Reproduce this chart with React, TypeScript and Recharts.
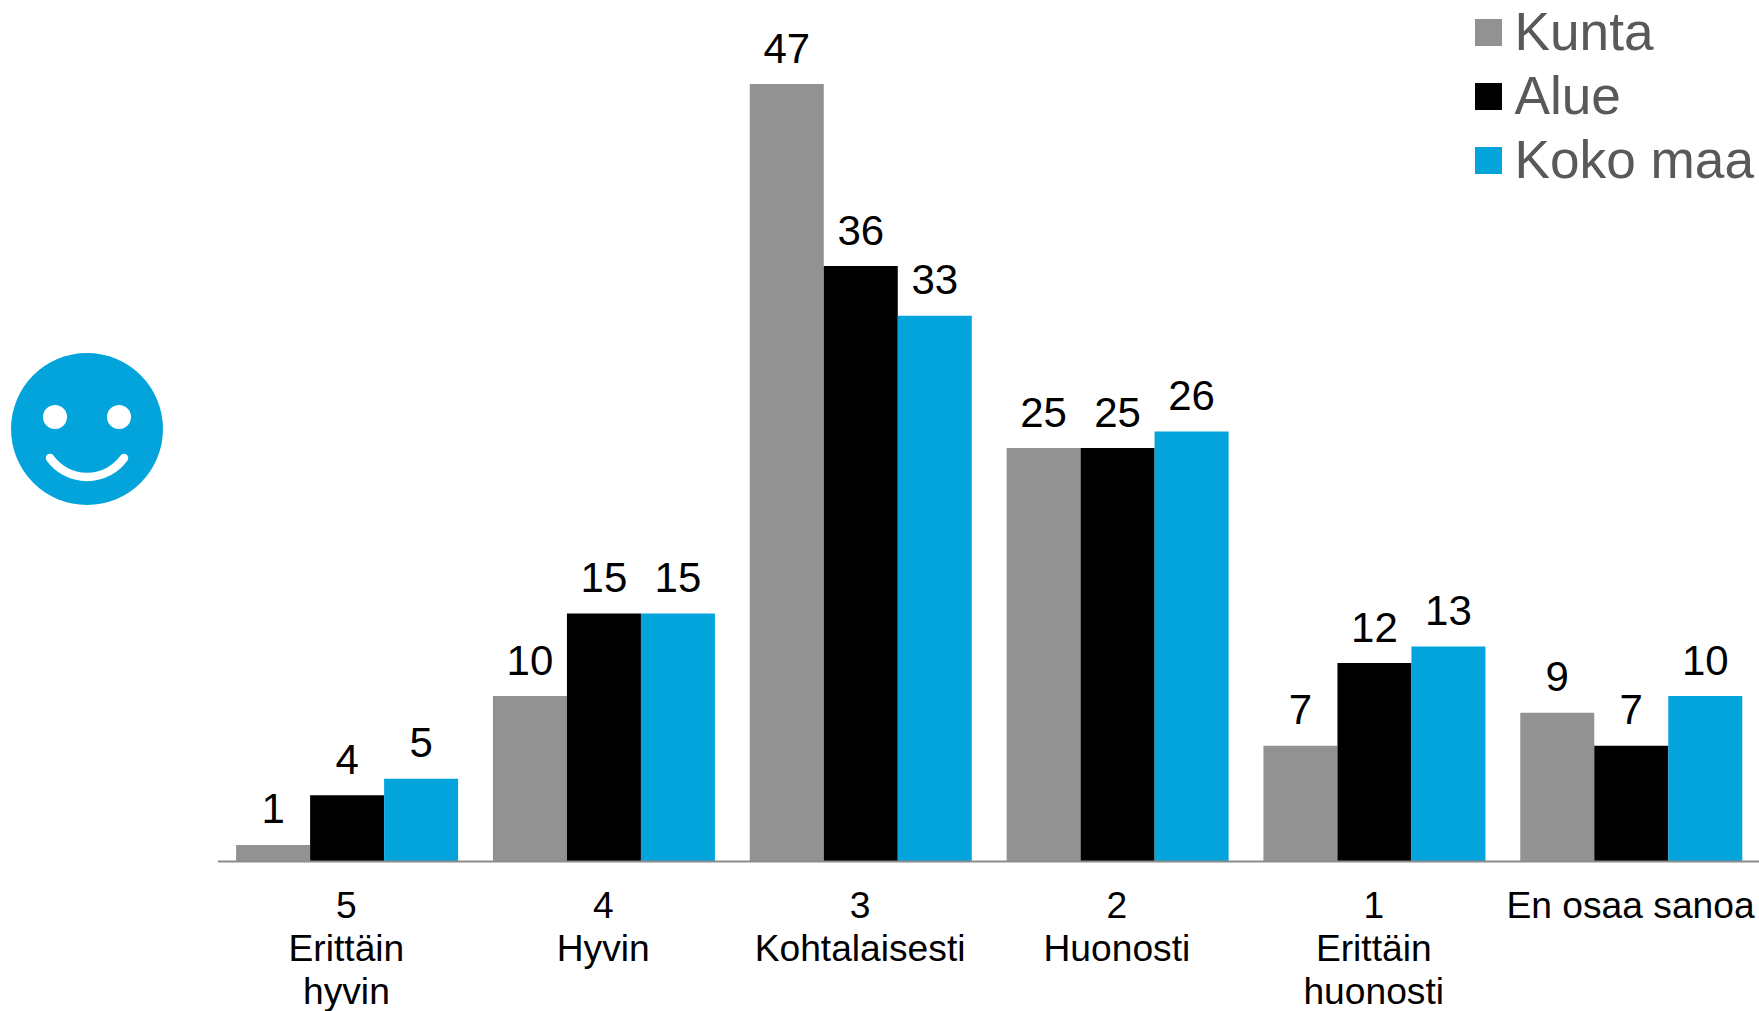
import React from 'react';
import { BarChart, Bar, XAxis, YAxis, Legend, LabelList } from 'recharts';

const categories = ['5\nErittäin\nhyvin', '4\nHyvin', '3\nKohtalaisesti', '2\nHuonosti', '1\nErittäin\nhuonosti', 'En osaa sanoa'];
const kunta = [1, 10, 47, 25, 7, 9];
const alue = [4, 15, 36, 25, 12, 7];
const kokoMaa = [5, 15, 33, 26, 13, 10];

const data = categories.map((name, i) => ({
    name,
    Kunta: kunta[i],
    Alue: alue[i],
    'Koko maa': kokoMaa[i],
}));

const FONT = '"Liberation Sans", Arial, sans-serif';

const CategoryTick = ({ x, y, payload }: any) => (
    <text x={x} textAnchor="middle" fontFamily={FONT} fontSize={37.2} fill="#000">
        {String(payload.value).split('\n').map((line: string, i: number) => (
            <tspan key={i} x={x} y={y + 48 + i * 43}>{line}</tspan>
        ))}
    </text>
);

const LegendList = ({ payload }: any) => (
    <div style={{ fontFamily: FONT, fontSize: 53.2, lineHeight: '64px', color: '#595959' }}>
        {(payload || []).map((entry: any) => (
            <div key={entry.value} style={{ display: 'flex', alignItems: 'center', whiteSpace: 'nowrap' }}>
                <span style={{ width: 27, height: 27, background: entry.color, marginRight: 12.5, display: 'inline-block' }} />
                {entry.value}
            </div>
        ))}
    </div>
);

const Smiley = () => (
    <g>
        <circle cx={87} cy={429} r={76} fill="#03a4dc" />
        <circle cx={55} cy={417} r={12} fill="#fff" />
        <circle cx={119} cy={417} r={12} fill="#fff" />
        <path d="M50 458 A45.5 45.5 0 0 0 124 458" fill="none" stroke="#fff" strokeWidth={8.5} strokeLinecap="round" />
    </g>
);

const labelStyle = { fontFamily: FONT, fontSize: 42, fill: '#000' };

export default function App() {
    return (
        <div style={{ position: 'absolute', left: 0, top: 0, width: 1759, height: 1011, background: '#fff', overflow: 'hidden' }}>
            <BarChart
                width={1759}
                height={1011}
                data={data}
                barCategoryGap="7.05%"
                barGap={0}
                margin={{ top: 34.5, right: 0, bottom: 0, left: 218 }}
            >
                <XAxis
                    dataKey="name"
                    height={149.5}
                    interval={0}
                    tickLine={false}
                    axisLine={{ stroke: '#8c8c8c', strokeWidth: 2 }}
                    tick={<CategoryTick />}
                />
                <YAxis hide domain={[0, 50]} />
                <Legend
                    layout="vertical"
                    verticalAlign="middle"
                    align="center"
                    itemSorter={null}
                    wrapperStyle={{ position: 'absolute', left: 1475, top: 0, right: 'auto', width: 284 }}
                    content={<LegendList />}
                />
                <Bar dataKey="Kunta" fill="#929292" isAnimationActive={false}>
                    <LabelList dataKey="Kunta" position="top" offset={21.5} style={labelStyle} />
                </Bar>
                <Bar dataKey="Alue" fill="#000000" isAnimationActive={false}>
                    <LabelList dataKey="Alue" position="top" offset={21.5} style={labelStyle} />
                </Bar>
                <Bar dataKey="Koko maa" fill="#03a4dc" isAnimationActive={false}>
                    <LabelList dataKey="Koko maa" position="top" offset={21.5} style={labelStyle} />
                </Bar>
                <Smiley />
            </BarChart>
        </div>
    );
}
